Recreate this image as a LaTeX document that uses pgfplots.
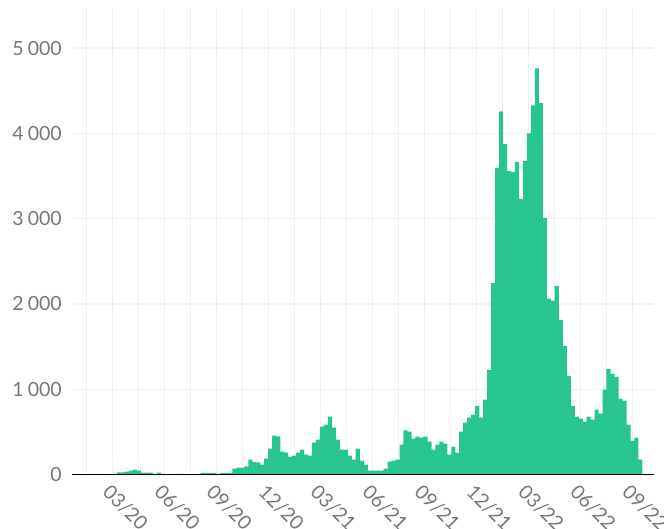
\documentclass[border=0pt]{standalone}
\usepackage{fontspec}
\setmainfont{Lato}
\usepackage{pgfplots}
\usepackage{pgfplotstable}
\pgfplotsset{compat=1.18}
\definecolor{bargreen}{HTML}{28C492}
\definecolor{gridgray}{HTML}{F0F0F0}
\definecolor{labelgray}{HTML}{777777}

\pgfplotstableread{
i v
0 25
1 25
2 35
3 48
4 57
5 46
6 22
7 22
8 22
9 5
10 22
11 5
12 2
13 2
14 2
15 8
16 0
17 2
18 5
19 5
20 5
21 20
22 20
23 20
24 20
25 5
26 20
27 20
28 20
29 70
30 82
31 82
32 95
33 175
34 150
35 142
36 116
37 186
38 305
39 456
40 447
41 269
42 257
43 211
44 222
45 257
46 292
47 234
48 222
49 374
50 410
51 562
52 585
53 679
54 550
55 410
56 292
57 292
58 222
59 175
60 304
61 164
62 117
63 47
64 47
65 47
66 47
67 70
68 152
69 164
70 175
71 351
72 519
73 503
74 421
75 445
76 433
77 445
78 386
79 292
80 351
81 386
82 363
83 234
84 328
85 257
86 503
87 608
88 667
89 702
90 807
91 667
92 878
93 1228
94 2246
95 3596
96 4259
97 3873
98 3557
99 3545
100 3662
101 3229
102 3674
103 4001
104 4329
105 4762
106 4356
107 3007
108 2063
109 2040
110 2211
111 1814
112 1509
113 1158
114 807
115 679
116 655
117 620
118 679
119 644
120 761
121 714
122 995
123 1240
124 1182
125 1147
126 889
127 866
128 585
129 398
130 433
131 176
}\weekly

\begin{document}
\begin{tikzpicture}[x=1pt,y=1pt]
\begin{axis}[
  name=ax,
  at={(0,0)}, anchor=south west,
  scale only axis,
  width=582pt, height=466.6pt,
  xmin=-11.81, xmax=134.42,
  ymin=0, ymax=5470,
  axis line style={draw=none},
  major tick length=0pt, minor tick length=0pt,
  xtick={-1.59,11.47,24.52,37.58,50.64,63.69,76.75,89.81,102.86,115.92,128.98},
  xticklabels={03/20,06/20,09/20,12/20,03/21,06/21,09/21,12/21,03/22,06/22,09/22},
  minor xtick={-8.12,4.94,18.0,31.05,44.11,57.17,70.22,83.28,96.33,109.39,122.45},
  ytick={0,1000,2000,3000,4000,5000},
  scaled y ticks=false,
  xmajorgrids=true, xminorgrids=true, ymajorgrids=true, yminorgrids=false,
  major grid style={gridgray, line width=1.4pt},
  minor grid style={gridgray, line width=1.4pt},
  /pgf/number format/1000 sep={\hspace{0.22em}},
  /pgf/number format/assume math mode=true,
  x tick label style={yshift=-8pt, xshift=-1pt, rotate=-45, anchor=north west, inner sep=0pt,
    font=\fontsize{19.5}{20}\selectfont, text=labelgray},
  y tick label style={anchor=east, inner sep=0pt, xshift=-10pt,
    font=\fontsize{19.5}{20}\selectfont, text=labelgray},
]
\addplot[ybar, bar width=1.04, bar shift=0pt, fill=bargreen, draw=none] table[x=i, y=v] {\weekly};
\draw[black, line width=1.6pt] (rel axis cs:0,0) -- (rel axis cs:1,0);
\end{axis}
\pgfresetboundingbox
\path[use as bounding box] (-72pt,-54.4pt) rectangle (592pt,474.6pt);
\end{tikzpicture}
\end{document}
